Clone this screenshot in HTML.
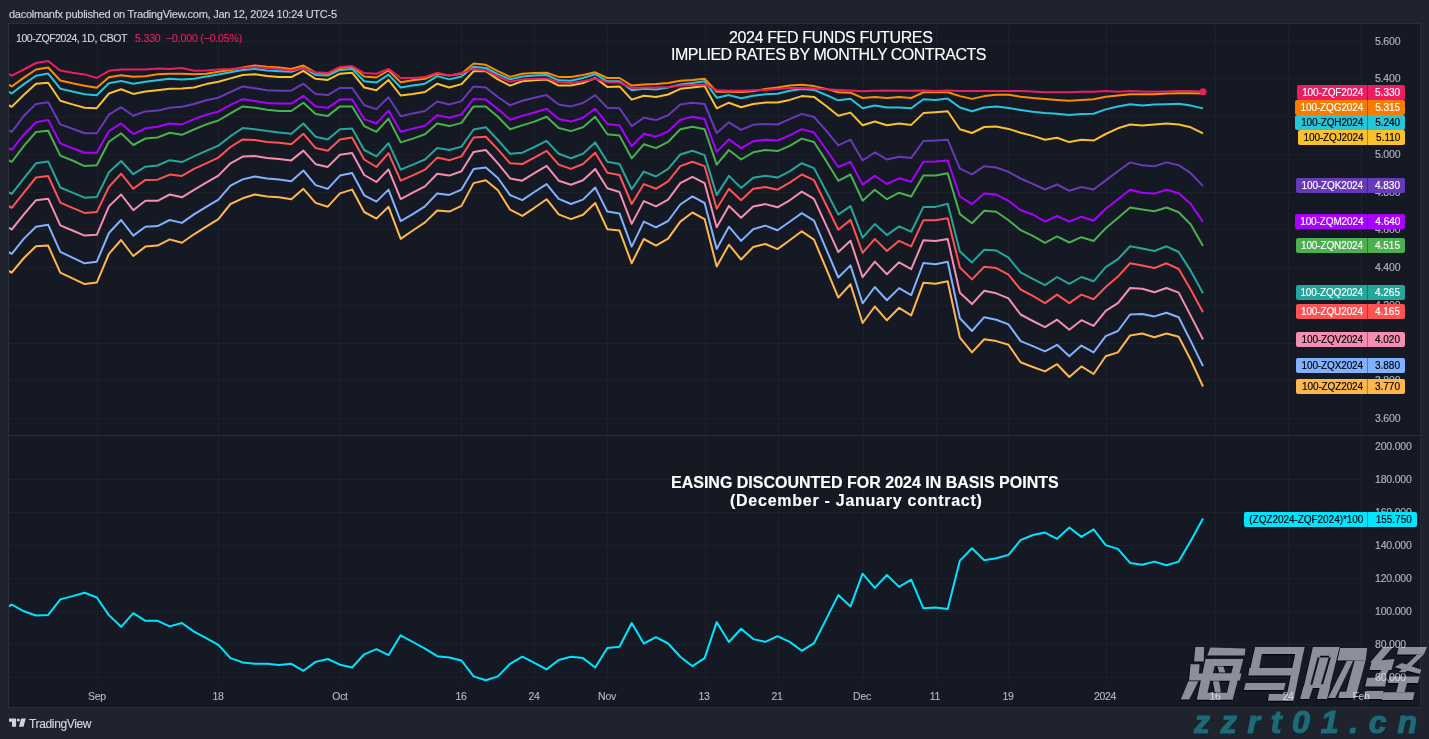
<!DOCTYPE html>
<html><head><meta charset="utf-8"><style>
*{margin:0;padding:0;box-sizing:border-box}
.hdr,.legend,.title,.pl,.tl,.tag{will-change:transform;-webkit-text-stroke:0.15px currentColor}
html,body{width:1429px;height:739px;overflow:hidden;background:#1f232e;font-family:"Liberation Sans",sans-serif}
#chart{position:absolute;left:8px;top:23px;width:1413px;height:685px;background:#151924;border:1px solid #2a2e39}
svg{position:absolute;left:0;top:0}
.hdr{position:absolute;left:9px;top:7.5px;font-size:11px;letter-spacing:-0.25px;color:#d1d4dc;white-space:nowrap}
.legend{position:absolute;left:16px;top:31.5px;font-size:10.5px;color:#d1d4dc;white-space:nowrap}
.title{position:absolute;color:#fff;white-space:nowrap;text-align:center}
.pl{position:absolute;left:1374.5px;height:14px;line-height:14px;font-size:10.5px;letter-spacing:-0.2px;color:#b2b5be;white-space:nowrap}
.tl{position:absolute;top:689px;width:60px;text-align:center;height:14px;line-height:14px;font-size:10.5px;letter-spacing:-0.3px;color:#b2b5be;white-space:nowrap}
.tag{position:absolute;height:15.2px;border-radius:2px;font-size:10px;line-height:15.2px;white-space:nowrap}
.tn{position:absolute;top:0;letter-spacing:-0.12px}
.tsep{position:absolute;left:71px;top:0;width:1px;height:100%;background:rgba(0,0,0,0.3)}
.tv{position:absolute;right:5px;top:0}
</style></head><body>
<div id="chart"></div>
<svg width="1429" height="739" viewBox="0 0 1429 739">
<defs><clipPath id="ct"><rect x="9" y="25" width="1352" height="410"/></clipPath>
<clipPath id="cb"><rect x="9" y="436" width="1352" height="247"/></clipPath></defs>
<line x1="97.5" y1="25" x2="97.5" y2="683" stroke="#1c202b" stroke-width="1"/><line x1="218.5" y1="25" x2="218.5" y2="683" stroke="#1c202b" stroke-width="1"/><line x1="340.5" y1="25" x2="340.5" y2="683" stroke="#1c202b" stroke-width="1"/><line x1="461.5" y1="25" x2="461.5" y2="683" stroke="#1c202b" stroke-width="1"/><line x1="534.5" y1="25" x2="534.5" y2="683" stroke="#1c202b" stroke-width="1"/><line x1="607.5" y1="25" x2="607.5" y2="683" stroke="#1c202b" stroke-width="1"/><line x1="705.5" y1="25" x2="705.5" y2="683" stroke="#1c202b" stroke-width="1"/><line x1="778.5" y1="25" x2="778.5" y2="683" stroke="#1c202b" stroke-width="1"/><line x1="863.5" y1="25" x2="863.5" y2="683" stroke="#1c202b" stroke-width="1"/><line x1="936.5" y1="25" x2="936.5" y2="683" stroke="#1c202b" stroke-width="1"/><line x1="1008.5" y1="25" x2="1008.5" y2="683" stroke="#1c202b" stroke-width="1"/><line x1="1106.5" y1="25" x2="1106.5" y2="683" stroke="#1c202b" stroke-width="1"/><line x1="1215.5" y1="25" x2="1215.5" y2="683" stroke="#1c202b" stroke-width="1"/><line x1="1288.5" y1="25" x2="1288.5" y2="683" stroke="#1c202b" stroke-width="1"/><line x1="9" y1="41.5" x2="1361" y2="41.5" stroke="#1c202b" stroke-width="1"/><line x1="9" y1="78.5" x2="1361" y2="78.5" stroke="#1c202b" stroke-width="1"/><line x1="9" y1="116.5" x2="1361" y2="116.5" stroke="#1c202b" stroke-width="1"/><line x1="9" y1="154.5" x2="1361" y2="154.5" stroke="#1c202b" stroke-width="1"/><line x1="9" y1="192.5" x2="1361" y2="192.5" stroke="#1c202b" stroke-width="1"/><line x1="9" y1="229.5" x2="1361" y2="229.5" stroke="#1c202b" stroke-width="1"/><line x1="9" y1="267.5" x2="1361" y2="267.5" stroke="#1c202b" stroke-width="1"/><line x1="9" y1="305.5" x2="1361" y2="305.5" stroke="#1c202b" stroke-width="1"/><line x1="9" y1="343.5" x2="1361" y2="343.5" stroke="#1c202b" stroke-width="1"/><line x1="9" y1="380.5" x2="1361" y2="380.5" stroke="#1c202b" stroke-width="1"/><line x1="9" y1="418.5" x2="1361" y2="418.5" stroke="#1c202b" stroke-width="1"/><line x1="9" y1="479.5" x2="1361" y2="479.5" stroke="#1c202b" stroke-width="1"/><line x1="9" y1="512.5" x2="1361" y2="512.5" stroke="#1c202b" stroke-width="1"/><line x1="9" y1="545.5" x2="1361" y2="545.5" stroke="#1c202b" stroke-width="1"/><line x1="9" y1="578.5" x2="1361" y2="578.5" stroke="#1c202b" stroke-width="1"/><line x1="9" y1="611.5" x2="1361" y2="611.5" stroke="#1c202b" stroke-width="1"/><line x1="9" y1="644.5" x2="1361" y2="644.5" stroke="#1c202b" stroke-width="1"/><line x1="9" y1="677.5" x2="1361" y2="677.5" stroke="#1c202b" stroke-width="1"/><line x1="8" y1="435.5" x2="1421" y2="435.5" stroke="#2a2e39" stroke-width="1"/><line x1="1361.5" y1="24" x2="1361.5" y2="707" stroke="#1f232e" stroke-width="1"/>
<g clip-path="url(#ct)"><polyline points="-0.5,265.7 11.7,272.7 23.9,258.0 36.0,246.2 48.2,245.6 60.3,272.7 72.5,278.4 84.6,284.1 96.8,282.6 108.9,253.8 121.1,240.0 133.3,256.0 145.4,246.6 157.6,245.6 169.7,239.4 181.9,242.8 194.0,234.3 206.2,226.7 218.4,219.1 230.5,204.0 242.7,198.3 254.8,194.5 267.0,196.4 279.1,197.3 291.3,199.2 303.4,188.8 315.6,202.9 327.8,206.7 339.9,193.4 352.1,189.6 364.2,212.0 376.4,218.6 388.5,206.7 400.7,238.9 412.8,230.5 425.0,222.4 437.2,210.5 449.3,211.6 461.5,205.9 473.6,183.1 485.8,180.3 497.9,190.2 510.1,209.7 522.3,215.9 534.4,207.8 546.6,199.2 558.7,214.4 570.9,219.1 583.0,214.8 595.2,203.0 607.3,229.2 619.5,230.5 631.7,263.3 643.8,239.0 656.0,245.6 668.1,238.6 680.3,221.6 692.4,212.5 704.6,219.1 716.7,266.5 728.9,244.7 741.1,259.5 753.2,247.0 765.4,244.0 777.5,249.1 789.7,240.2 801.8,231.3 814.0,239.6 826.2,268.6 838.3,297.6 850.5,284.3 862.6,323.0 874.8,306.5 886.9,320.3 899.1,307.8 911.2,315.4 923.4,282.7 935.6,283.8 947.7,281.3 959.9,337.7 972.0,352.4 984.2,339.2 996.3,341.1 1008.5,344.8 1020.6,362.3 1032.8,367.0 1045.0,371.4 1057.1,364.2 1069.3,377.0 1081.4,366.4 1093.6,374.0 1105.7,356.2 1117.9,352.4 1130.1,335.4 1142.2,333.5 1154.4,337.3 1166.5,333.5 1178.7,336.7 1190.8,360.0 1203.0,386.5" fill="none" stroke="#ffb74d" stroke-width="2" stroke-linejoin="round"/><polyline points="-0.5,246.8 11.7,253.8 23.9,238.6 36.0,226.7 48.2,224.8 60.3,251.9 72.5,257.6 84.6,263.3 96.8,261.7 108.9,233.0 121.1,220.0 133.3,235.6 145.4,226.7 157.6,226.1 169.7,220.0 181.9,222.9 194.0,214.4 206.2,206.8 218.4,199.6 230.5,185.6 242.7,179.4 254.8,176.5 267.0,178.4 279.1,179.4 291.3,181.3 303.4,170.5 315.6,185.1 327.8,188.9 339.9,175.6 352.1,173.1 364.2,195.3 376.4,201.6 388.5,189.6 400.7,221.1 412.8,214.2 425.0,206.3 437.2,193.4 449.3,194.9 461.5,189.6 473.6,168.9 485.8,167.4 497.9,178.0 510.1,195.1 522.3,200.2 534.4,192.0 546.6,184.1 558.7,198.9 570.9,204.0 583.0,199.6 595.2,187.5 607.3,211.6 619.5,213.4 631.7,246.6 643.8,221.6 656.0,227.3 668.1,221.0 680.3,204.5 692.4,196.4 704.6,203.0 716.7,248.9 728.9,226.7 741.1,240.9 753.2,229.2 765.4,225.6 777.5,230.2 789.7,221.8 801.8,213.1 814.0,220.7 826.2,249.1 838.3,277.5 850.5,265.4 862.6,303.3 874.8,287.0 886.9,300.2 899.1,288.1 911.2,295.1 923.4,263.0 935.6,264.3 947.7,261.8 959.9,318.3 972.0,331.0 984.2,317.2 996.3,319.7 1008.5,324.4 1020.6,341.1 1032.8,346.2 1045.0,351.3 1057.1,344.8 1069.3,356.2 1081.4,345.6 1093.6,352.4 1105.7,336.1 1117.9,331.0 1130.1,314.5 1142.2,314.0 1154.4,316.4 1166.5,312.7 1178.7,317.2 1190.8,341.1 1203.0,366.1" fill="none" stroke="#82b1ff" stroke-width="2" stroke-linejoin="round"/><polyline points="-0.5,222.5 11.7,229.5 23.9,214.4 36.0,200.2 48.2,198.7 60.3,225.4 72.5,230.5 84.6,235.6 96.8,234.8 108.9,206.4 121.1,194.5 133.3,210.2 145.4,200.8 157.6,200.8 169.7,194.5 181.9,197.3 194.0,189.8 206.2,182.6 218.4,175.6 230.5,163.3 242.7,156.6 254.8,156.0 267.0,158.0 279.1,159.1 291.3,160.4 303.4,150.6 315.6,164.2 327.8,166.9 339.9,154.8 352.1,152.9 364.2,175.0 376.4,182.0 388.5,169.4 400.7,199.1 412.8,192.7 425.0,186.4 437.2,173.7 449.3,175.6 461.5,171.3 473.6,151.9 485.8,150.0 497.9,163.3 510.1,178.4 522.3,180.7 534.4,173.1 546.6,165.9 558.7,180.7 570.9,184.8 583.0,180.3 595.2,168.9 607.3,188.3 619.5,192.0 631.7,223.9 643.8,201.1 656.0,206.4 668.1,199.6 680.3,183.1 692.4,176.9 704.6,183.1 716.7,227.3 728.9,205.9 741.1,217.8 753.2,206.4 765.4,204.1 777.5,207.3 789.7,200.3 801.8,191.6 814.0,198.8 826.2,225.4 838.3,252.1 850.5,240.8 862.6,277.1 874.8,261.6 886.9,274.3 899.1,262.3 911.2,269.2 923.4,240.2 935.6,241.0 947.7,239.1 959.9,292.7 972.0,304.1 984.2,290.8 996.3,293.3 1008.5,298.4 1020.6,314.5 1032.8,321.0 1045.0,327.2 1057.1,319.7 1069.3,329.7 1081.4,320.2 1093.6,325.9 1105.7,310.8 1117.9,303.2 1130.1,288.0 1142.2,288.8 1154.4,292.2 1166.5,288.0 1178.7,292.6 1190.8,315.9 1203.0,339.5" fill="none" stroke="#f48fb1" stroke-width="2" stroke-linejoin="round"/><polyline points="-0.5,200.8 11.7,207.8 23.9,192.6 36.0,177.5 48.2,176.0 60.3,202.7 72.5,207.8 84.6,212.9 96.8,212.1 108.9,186.9 121.1,173.7 133.3,188.8 145.4,179.9 157.6,179.7 169.7,174.6 181.9,175.9 194.0,168.9 206.2,163.3 218.4,157.6 230.5,147.0 242.7,139.4 254.8,140.0 267.0,141.9 279.1,142.8 291.3,144.3 303.4,133.7 315.6,148.1 327.8,150.8 339.9,139.4 352.1,137.5 364.2,159.5 376.4,167.0 388.5,153.2 400.7,180.7 412.8,175.4 425.0,169.7 437.2,157.6 449.3,160.2 461.5,156.4 473.6,137.5 485.8,136.7 497.9,149.4 510.1,163.3 522.3,164.0 534.4,157.6 546.6,150.8 558.7,164.6 570.9,168.9 583.0,164.0 595.2,152.7 607.3,172.7 619.5,175.0 631.7,204.0 643.8,184.1 656.0,188.8 668.1,181.3 680.3,166.1 692.4,161.7 704.6,166.1 716.7,208.7 728.9,188.8 741.1,200.2 753.2,188.8 765.4,187.0 777.5,189.7 789.7,182.7 801.8,174.5 814.0,180.2 826.2,205.0 838.3,229.8 850.5,219.9 862.6,252.9 874.8,238.9 886.9,251.0 899.1,240.8 911.2,246.4 923.4,220.2 935.6,220.2 947.7,218.3 959.9,267.5 972.0,279.4 984.2,266.7 996.3,268.1 1008.5,274.7 1020.6,289.5 1032.8,295.9 1045.0,303.1 1057.1,294.6 1069.3,303.1 1081.4,294.6 1093.6,299.3 1105.7,287.0 1117.9,276.6 1130.1,263.3 1142.2,265.6 1154.4,268.1 1166.5,263.3 1178.7,269.0 1190.8,289.8 1203.0,312.2" fill="none" stroke="#ff5252" stroke-width="2" stroke-linejoin="round"/><polyline points="-0.5,186.9 11.7,193.9 23.9,178.4 36.0,163.3 48.2,161.4 60.3,187.5 72.5,192.6 84.6,197.7 96.8,197.0 108.9,172.3 121.1,161.0 133.3,174.2 145.4,166.7 157.6,165.5 169.7,160.2 181.9,162.1 194.0,156.4 206.2,150.8 218.4,145.6 230.5,136.2 242.7,128.0 254.8,129.2 267.0,131.1 279.1,132.4 291.3,133.7 303.4,123.5 315.6,136.7 327.8,139.4 339.9,129.2 352.1,128.6 364.2,150.0 376.4,156.4 388.5,143.2 400.7,169.7 412.8,164.6 425.0,159.5 437.2,148.1 449.3,150.0 461.5,146.6 473.6,129.5 485.8,127.3 497.9,140.0 510.1,153.8 522.3,152.7 534.4,147.0 546.6,140.9 558.7,153.8 570.9,158.3 583.0,153.8 595.2,142.4 607.3,161.7 619.5,164.0 631.7,189.2 643.8,171.6 656.0,176.5 668.1,168.9 680.3,154.5 692.4,150.8 704.6,155.1 716.7,195.1 728.9,175.9 741.1,187.9 753.2,177.8 765.4,175.7 777.5,177.6 789.7,171.3 801.8,163.2 814.0,168.1 826.2,191.3 838.3,214.6 850.5,206.1 862.6,237.7 874.8,224.1 886.9,235.1 899.1,226.4 911.2,231.7 923.4,206.9 935.6,206.9 947.7,203.7 959.9,251.6 972.0,262.4 984.2,249.7 996.3,250.5 1008.5,257.7 1020.6,272.4 1032.8,278.9 1045.0,285.1 1057.1,277.0 1069.3,283.8 1081.4,277.0 1093.6,281.3 1105.7,267.1 1117.9,259.2 1130.1,246.3 1142.2,248.6 1154.4,251.0 1166.5,246.3 1178.7,252.0 1190.8,270.9 1203.0,293.3" fill="none" stroke="#26a69a" stroke-width="2" stroke-linejoin="round"/><polyline points="-0.5,155.0 11.7,162.0 23.9,145.8 36.0,132.0 48.2,130.7 60.3,155.6 72.5,160.5 84.6,166.1 96.8,165.3 108.9,141.8 121.1,133.2 133.3,145.0 145.4,138.5 157.6,137.5 169.7,132.8 181.9,134.8 194.0,129.5 206.2,124.4 218.4,120.5 230.5,113.4 242.7,106.4 254.8,107.8 267.0,109.7 279.1,111.0 291.3,111.0 303.4,102.7 315.6,114.0 327.8,115.9 339.9,106.4 352.1,106.4 364.2,126.1 376.4,131.8 388.5,118.6 400.7,142.4 412.8,138.6 425.0,134.3 437.2,123.5 449.3,126.1 461.5,122.9 473.6,106.4 485.8,106.4 497.9,116.7 510.1,129.2 522.3,125.4 534.4,121.6 546.6,116.7 558.7,128.0 570.9,131.1 583.0,127.3 595.2,116.7 607.3,134.3 619.5,135.6 631.7,158.3 643.8,144.3 656.0,148.1 668.1,141.9 680.3,129.2 692.4,126.7 704.6,129.2 716.7,164.6 728.9,150.0 741.1,159.5 753.2,152.3 765.4,149.9 777.5,151.1 789.7,145.8 801.8,138.6 814.0,142.0 826.2,160.9 838.3,180.8 850.5,174.5 862.6,200.7 874.8,189.7 886.9,199.2 899.1,192.7 911.2,196.5 923.4,175.6 935.6,175.6 947.7,173.2 959.9,214.1 972.0,223.2 984.2,210.7 996.3,211.8 1008.5,220.2 1020.6,230.2 1032.8,235.9 1045.0,242.9 1057.1,236.4 1069.3,242.5 1081.4,237.2 1093.6,241.0 1105.7,228.3 1117.9,217.9 1130.1,207.5 1142.2,209.4 1154.4,211.3 1166.5,207.5 1178.7,212.2 1190.8,224.5 1203.0,245.9" fill="none" stroke="#4caf50" stroke-width="2" stroke-linejoin="round"/><polyline points="-0.5,142.9 11.7,149.9 23.9,134.5 36.0,122.3 48.2,119.9 60.3,143.4 72.5,148.3 84.6,152.7 96.8,152.7 108.9,131.2 121.1,123.4 133.3,134.1 145.4,128.3 157.6,126.7 169.7,123.5 181.9,124.4 194.0,119.1 206.2,114.8 218.4,111.6 230.5,104.9 242.7,99.2 254.8,101.1 267.0,103.0 279.1,103.6 291.3,103.6 303.4,95.8 315.6,106.4 327.8,107.8 339.9,99.6 352.1,99.2 364.2,119.1 376.4,123.5 388.5,110.6 400.7,131.8 412.8,128.6 425.0,125.8 437.2,115.3 449.3,117.8 461.5,114.4 473.6,98.9 485.8,99.6 497.9,109.1 510.1,119.7 522.3,115.9 534.4,112.5 546.6,108.7 558.7,119.1 570.9,121.6 583.0,117.8 595.2,108.7 607.3,123.9 619.5,125.4 631.7,146.2 643.8,133.7 656.0,136.7 668.1,131.4 680.3,119.7 692.4,116.7 704.6,119.1 716.7,151.9 728.9,139.4 741.1,148.1 753.2,141.3 765.4,139.7 777.5,140.5 789.7,135.3 801.8,129.1 814.0,132.5 826.2,149.5 838.3,167.0 850.5,161.9 862.6,184.6 874.8,175.7 886.9,184.0 899.1,178.3 911.2,181.7 923.4,161.8 935.6,161.4 947.7,160.5 959.9,196.5 972.0,204.1 984.2,193.6 996.3,194.6 1008.5,200.8 1020.6,210.3 1032.8,214.5 1045.0,221.7 1057.1,216.0 1069.3,221.7 1081.4,216.7 1093.6,220.7 1105.7,208.8 1117.9,199.3 1130.1,189.8 1142.2,192.7 1154.4,193.6 1166.5,189.8 1178.7,193.3 1190.8,204.1 1203.0,222.0" fill="none" stroke="#aa00ff" stroke-width="2" stroke-linejoin="round"/><polyline points="-0.5,125.0 11.7,132.0 23.9,115.8 36.0,103.9 48.2,102.3 60.3,124.4 72.5,128.8 84.6,133.2 96.8,133.2 108.9,114.7 121.1,107.2 133.3,115.8 145.4,111.4 157.6,110.6 169.7,107.8 181.9,106.8 194.0,104.0 206.2,100.2 218.4,97.7 230.5,92.0 242.7,86.4 254.8,88.3 267.0,90.3 279.1,90.7 291.3,90.7 303.4,83.7 315.6,93.9 327.8,95.1 339.9,87.9 352.1,87.9 364.2,105.3 376.4,109.1 388.5,97.3 400.7,116.3 412.8,113.4 425.0,111.0 437.2,101.5 449.3,104.5 461.5,101.1 473.6,86.4 485.8,87.5 497.9,97.0 510.1,105.3 522.3,100.8 534.4,97.7 546.6,95.1 558.7,104.5 570.9,106.4 583.0,103.0 595.2,95.1 607.3,107.8 619.5,108.3 631.7,126.1 643.8,117.8 656.0,120.1 668.1,115.3 680.3,104.5 692.4,102.7 704.6,104.0 716.7,133.0 728.9,122.3 741.1,129.9 753.2,124.8 765.4,124.0 777.5,124.5 789.7,119.2 801.8,113.9 814.0,117.0 826.2,130.6 838.3,145.4 850.5,139.7 862.6,160.5 874.8,152.4 886.9,159.4 899.1,156.7 911.2,158.1 923.4,141.0 935.6,140.6 947.7,139.7 959.9,168.6 972.0,174.3 984.2,166.2 996.3,167.5 1008.5,171.9 1020.6,178.5 1032.8,183.8 1045.0,189.5 1057.1,184.5 1069.3,190.8 1081.4,187.0 1093.6,189.5 1105.7,180.4 1117.9,171.3 1130.1,162.4 1142.2,165.2 1154.4,166.2 1166.5,162.4 1178.7,165.2 1190.8,173.2 1203.0,186.1" fill="none" stroke="#673ab7" stroke-width="2" stroke-linejoin="round"/><polyline points="-0.5,99.9 11.7,106.9 23.9,94.7 36.0,83.8 48.2,82.8 60.3,100.7 72.5,104.4 84.6,107.7 96.8,108.2 108.9,93.5 121.1,89.3 133.3,93.9 145.4,91.4 157.6,90.2 169.7,88.8 181.9,88.4 194.0,87.5 206.2,84.1 218.4,81.8 230.5,78.4 242.7,75.0 254.8,74.2 267.0,76.1 279.1,77.1 291.3,77.1 303.4,70.8 315.6,78.8 327.8,79.9 339.9,73.7 352.1,72.7 364.2,87.5 376.4,90.2 388.5,79.9 400.7,95.5 412.8,93.9 425.0,92.0 437.2,83.7 449.3,87.5 461.5,84.1 473.6,71.2 485.8,71.2 497.9,79.4 510.1,85.6 522.3,81.3 534.4,80.3 546.6,79.4 558.7,85.6 570.9,85.6 583.0,83.1 595.2,78.0 607.3,86.9 619.5,86.4 631.7,99.6 643.8,95.8 656.0,97.0 668.1,94.5 680.3,88.8 692.4,87.5 704.6,86.0 716.7,108.3 728.9,102.7 741.1,107.2 753.2,104.0 765.4,102.6 777.5,102.6 789.7,99.9 801.8,96.1 814.0,96.9 826.2,106.0 838.3,115.8 850.5,112.6 862.6,125.3 874.8,121.5 886.9,125.3 899.1,123.4 911.2,124.9 923.4,113.1 935.6,112.2 947.7,111.3 959.9,129.2 972.0,133.0 984.2,127.0 996.3,126.4 1008.5,128.9 1020.6,132.7 1032.8,135.9 1045.0,139.7 1057.1,137.8 1069.3,142.1 1081.4,139.7 1093.6,140.6 1105.7,134.0 1117.9,128.3 1130.1,124.5 1142.2,125.5 1154.4,124.5 1166.5,123.6 1178.7,124.5 1190.8,127.3 1203.0,133.4" fill="none" stroke="#fbc02d" stroke-width="2" stroke-linejoin="round"/><polyline points="-0.5,86.5 11.7,93.5 23.9,84.1 36.0,75.7 48.2,73.6 60.3,88.7 72.5,91.4 84.6,94.2 96.8,95.2 108.9,83.3 121.1,80.9 133.3,83.8 145.4,81.7 157.6,80.3 169.7,78.8 181.9,79.4 194.0,78.8 206.2,76.5 218.4,74.6 230.5,72.3 242.7,69.9 254.8,68.9 267.0,70.5 279.1,71.2 291.3,71.8 303.4,68.0 315.6,75.0 327.8,75.6 339.9,69.9 352.1,68.9 364.2,81.3 376.4,82.6 388.5,74.6 400.7,87.5 412.8,85.6 425.0,83.7 437.2,76.1 449.3,79.4 461.5,76.5 473.6,66.7 485.8,68.0 497.9,74.2 510.1,79.4 522.3,76.5 534.4,75.6 546.6,75.0 558.7,80.3 570.9,80.7 583.0,78.0 595.2,74.2 607.3,81.3 619.5,81.3 631.7,90.2 643.8,88.8 656.0,89.4 668.1,87.5 680.3,84.5 692.4,83.1 704.6,81.3 716.7,97.7 728.9,95.1 741.1,98.3 753.2,95.8 765.4,94.2 777.5,93.7 789.7,90.8 801.8,88.9 814.0,89.9 826.2,95.0 838.3,100.3 850.5,98.8 862.6,108.3 874.8,105.6 886.9,107.5 899.1,107.5 911.2,108.3 923.4,99.3 935.6,99.9 947.7,98.6 959.9,107.5 972.0,111.3 984.2,107.5 996.3,106.5 1008.5,108.0 1020.6,109.9 1032.8,111.8 1045.0,113.1 1057.1,113.7 1069.3,115.0 1081.4,114.1 1093.6,113.7 1105.7,109.4 1117.9,106.5 1130.1,104.2 1142.2,105.6 1154.4,104.6 1166.5,104.2 1178.7,103.7 1190.8,105.6 1203.0,108.4" fill="none" stroke="#26c6da" stroke-width="2" stroke-linejoin="round"/><polyline points="-0.5,79.5 11.7,86.5 23.9,77.6 36.0,69.5 48.2,67.5 60.3,80.5 72.5,83.3 84.6,85.7 96.8,87.7 108.9,77.3 121.1,75.2 133.3,76.8 145.4,76.3 157.6,74.2 169.7,73.7 181.9,73.7 194.0,74.2 206.2,73.7 218.4,71.8 230.5,69.9 242.7,67.4 254.8,65.5 267.0,66.7 279.1,67.6 291.3,68.9 303.4,65.5 315.6,72.7 327.8,73.7 339.9,68.0 352.1,66.7 364.2,76.5 376.4,77.5 388.5,70.5 400.7,82.2 412.8,80.3 425.0,78.8 437.2,73.7 449.3,75.6 461.5,73.7 473.6,63.6 485.8,64.8 497.9,71.2 510.1,76.9 522.3,73.7 534.4,73.1 546.6,72.7 558.7,76.9 570.9,76.9 583.0,75.0 595.2,72.3 607.3,78.0 619.5,78.0 631.7,85.6 643.8,84.5 656.0,84.1 668.1,83.1 680.3,80.7 692.4,79.9 704.6,78.8 716.7,91.7 728.9,91.7 741.1,92.0 753.2,91.3 765.4,88.9 777.5,87.4 789.7,85.5 801.8,84.8 814.0,86.1 826.2,88.9 838.3,92.3 850.5,92.7 862.6,98.0 874.8,96.9 886.9,98.0 899.1,96.9 911.2,98.0 923.4,92.3 935.6,92.3 947.7,92.3 959.9,96.1 972.0,98.9 984.2,96.1 996.3,94.8 1008.5,94.8 1020.6,96.7 1032.8,98.0 1045.0,98.9 1057.1,99.9 1069.3,100.8 1081.4,99.9 1093.6,99.3 1105.7,96.7 1117.9,95.5 1130.1,94.2 1142.2,94.2 1154.4,94.2 1166.5,93.6 1178.7,93.3 1190.8,93.3 1203.0,93.6" fill="none" stroke="#fb8c00" stroke-width="2" stroke-linejoin="round"/><polyline points="-0.5,68.7 11.7,75.7 23.9,69.5 36.0,63.0 48.2,61.0 60.3,70.6 72.5,72.7 84.6,74.4 96.8,78.0 108.9,70.8 121.1,69.5 133.3,69.5 145.4,69.5 157.6,68.4 169.7,68.9 181.9,68.0 194.0,70.8 206.2,70.5 218.4,69.5 230.5,68.9 242.7,68.0 254.8,67.0 267.0,68.0 279.1,68.9 291.3,70.5 303.4,68.6 315.6,72.3 327.8,73.1 339.9,67.0 352.1,66.1 364.2,73.1 376.4,73.7 388.5,68.9 400.7,78.0 412.8,78.0 425.0,77.1 437.2,72.7 449.3,75.6 461.5,73.1 473.6,68.9 485.8,70.5 497.9,76.5 510.1,81.8 522.3,79.4 534.4,78.8 546.6,78.4 558.7,82.2 570.9,83.1 583.0,81.3 595.2,78.8 607.3,82.2 619.5,82.6 631.7,87.9 643.8,87.5 656.0,87.5 668.1,86.9 680.3,85.6 692.4,85.0 704.6,84.5 716.7,90.2 728.9,90.7 741.1,90.7 753.2,90.2 765.4,89.9 777.5,88.9 789.7,88.0 801.8,88.0 814.0,88.6 826.2,89.3 838.3,89.9 850.5,90.5 862.6,91.2 874.8,90.8 886.9,90.5 899.1,90.8 911.2,90.8 923.4,90.4 935.6,91.0 947.7,90.4 959.9,91.0 972.0,91.0 984.2,91.0 996.3,91.0 1008.5,91.0 1020.6,91.0 1032.8,91.4 1045.0,92.3 1057.1,92.3 1069.3,92.3 1081.4,91.7 1093.6,91.7 1105.7,91.0 1117.9,91.7 1130.1,91.0 1142.2,91.4 1154.4,91.7 1166.5,91.4 1178.7,91.0 1190.8,91.0 1203.0,91.7" fill="none" stroke="#e91e63" stroke-width="2" stroke-linejoin="round"/><circle cx="1203.0" cy="91.7" r="3.5" fill="#e91e63"/></g>
<g clip-path="url(#cb)"><polyline points="-0.5,612.5 11.7,604.5 23.9,611.3 36.0,615.5 48.2,614.9 60.3,599.4 72.5,596.1 84.6,592.7 96.8,597.5 108.9,615.1 121.1,626.8 133.3,613.2 145.4,620.8 157.6,620.8 169.7,626.4 181.9,623.0 194.0,631.6 206.2,638.2 218.4,644.8 230.5,658.1 242.7,662.4 254.8,663.8 267.0,663.8 279.1,665.1 291.3,663.8 303.4,670.8 315.6,661.9 327.8,659.0 339.9,664.7 352.1,667.5 364.2,654.3 376.4,649.2 388.5,655.2 400.7,635.3 412.8,642.0 425.0,648.6 437.2,656.2 449.3,657.5 461.5,660.5 473.6,676.4 485.8,680.2 497.9,676.4 510.1,663.8 522.3,656.7 534.4,662.8 546.6,669.4 558.7,660.0 570.9,656.7 583.0,658.1 595.2,667.5 607.3,648.0 619.5,646.7 631.7,623.0 643.8,643.5 656.0,637.2 668.1,643.5 680.3,656.7 692.4,666.2 704.6,658.1 716.7,622.1 728.9,642.0 741.1,628.7 753.2,639.1 765.4,641.9 777.5,636.2 789.7,641.9 801.8,650.8 814.0,643.2 826.2,619.1 838.3,595.1 850.5,606.4 862.6,573.7 874.8,587.9 886.9,575.0 899.1,586.9 911.2,579.7 923.4,608.3 935.6,607.6 947.7,608.9 959.9,560.6 972.0,548.3 984.2,560.2 996.3,558.3 1008.5,554.9 1020.6,540.2 1032.8,535.0 1045.0,532.6 1057.1,538.8 1069.3,527.5 1081.4,536.9 1093.6,529.4 1105.7,545.1 1117.9,548.9 1130.1,562.9 1142.2,564.8 1154.4,561.6 1166.5,565.3 1178.7,561.6 1190.8,540.7 1203.0,518.6" fill="none" stroke="#00e5ff" stroke-width="2" stroke-linejoin="round"/></g>
<g fill="#d1d4dc"><path d="M9,718.4 H16.1 V726.8 H12 V721.8 H9 Z"/><circle cx="18.4" cy="720" r="1.5"/><path d="M21.1,718.4 H25.8 L23.5,726.8 H19 Z"/></g>
</svg>
<div class="hdr">dacolmanfx published on TradingView.com, Jan 12, 2024 10:24 UTC-5</div>
<div class="legend"><span style="letter-spacing:-0.41px">100-ZQF2024, 1D, CBOT</span><span style="position:absolute;left:119px;letter-spacing:-0.15px;color:#e91e63">5.330&nbsp;&nbsp;−0.000 (−0.05%)</span></div>
<div class="title" style="left:729px;top:28.5px;font-size:16px;line-height:17px;letter-spacing:-0.37px">2024 FED FUNDS FUTURES</div>
<div class="title" style="left:671.4px;top:45.5px;font-size:16px;line-height:17px;letter-spacing:-0.48px">IMPLIED RATES BY MONTHLY CONTRACTS</div>
<div class="title" style="left:671px;top:473.5px;font-size:16px;line-height:17px;font-weight:bold;letter-spacing:0px">EASING DISCOUNTED FOR 2024 IN BASIS POINTS</div>
<div class="title" style="left:729.7px;top:491.5px;font-size:16px;line-height:17px;font-weight:bold;letter-spacing:0.74px">(December - January contract)</div>
<div class="pl" style="top:33.5px">5.600</div><div class="pl" style="top:71.3px">5.400</div><div class="pl" style="top:109.0px">5.200</div><div class="pl" style="top:146.8px">5.000</div><div class="pl" style="top:184.5px">4.800</div><div class="pl" style="top:222.3px">4.600</div><div class="pl" style="top:260.1px">4.400</div><div class="pl" style="top:297.8px">4.200</div><div class="pl" style="top:335.6px">4.000</div><div class="pl" style="top:373.3px">3.800</div><div class="pl" style="top:411.1px">3.600</div><div class="pl" style="top:439.3px">200.000</div><div class="pl" style="top:472.2px">180.000</div><div class="pl" style="top:505.1px">160.000</div><div class="pl" style="top:538.1px">140.000</div><div class="pl" style="top:571.0px">120.000</div><div class="pl" style="top:603.9px">100.000</div><div class="pl" style="top:636.8px">80.000</div><div class="pl" style="top:669.7px">60.000</div>
<div class="tl" style="left:66.5px">Sep</div><div class="tl" style="left:188.1px">18</div><div class="tl" style="left:309.6px">Oct</div><div class="tl" style="left:431.2px">16</div><div class="tl" style="left:504.1px">24</div><div class="tl" style="left:577.0px">Nov</div><div class="tl" style="left:674.3px">13</div><div class="tl" style="left:747.2px">21</div><div class="tl" style="left:832.3px">Dec</div><div class="tl" style="left:905.3px">11</div><div class="tl" style="left:978.2px">19</div><div class="tl" style="left:1075.4px">2024</div><div class="tl" style="left:1184.8px">16</div><div class="tl" style="left:1257.8px">24</div><div class="tl" style="left:1330.7px">Feb</div>
<div class="tag" style="top:84.6px;left:1297.2px;width:108.1px;background:#e91e63;color:#fff"><span class="tn" style="right:42.0px">100-ZQF2024</span><span class="tsep" style="left:69.8px"></span><span class="tv">5.330</span></div><div class="tag" style="top:99.8px;left:1295.1px;width:110.2px;background:#f57c00;color:#fff"><span class="tn" style="right:42.0px">100-ZQG2024</span><span class="tsep" style="left:71.9px"></span><span class="tv">5.315</span></div><div class="tag" style="top:114.8px;left:1295.1px;width:110.2px;background:#26c6da;color:#000"><span class="tn" style="right:42.0px">100-ZQH2024</span><span class="tsep" style="left:71.9px"></span><span class="tv">5.240</span></div><div class="tag" style="top:129.8px;left:1297.9px;width:107.4px;background:#fbc02d;color:#000"><span class="tn" style="right:42.0px">100-ZQJ2024</span><span class="tsep" style="left:69.1px"></span><span class="tv">5.110</span></div><div class="tag" style="top:178.3px;left:1296.3px;width:109.0px;background:#673ab7;color:#fff"><span class="tn" style="right:42.0px">100-ZQK2024</span><span class="tsep" style="left:70.7px"></span><span class="tv">4.830</span></div><div class="tag" style="top:214.3px;left:1294.9px;width:110.4px;background:#aa00ff;color:#fff"><span class="tn" style="right:42.0px">100-ZQM2024</span><span class="tsep" style="left:72.1px"></span><span class="tv">4.640</span></div><div class="tag" style="top:237.9px;left:1296.3px;width:109.0px;background:#4caf50;color:#fff"><span class="tn" style="right:42.0px">100-ZQN2024</span><span class="tsep" style="left:70.7px"></span><span class="tv">4.515</span></div><div class="tag" style="top:285.1px;left:1296.3px;width:109.0px;background:#26a69a;color:#fff"><span class="tn" style="right:42.0px">100-ZQQ2024</span><span class="tsep" style="left:70.7px"></span><span class="tv">4.265</span></div><div class="tag" style="top:304.0px;left:1296.3px;width:109.0px;background:#ff5252;color:#fff"><span class="tn" style="right:42.0px">100-ZQU2024</span><span class="tsep" style="left:70.7px"></span><span class="tv">4.165</span></div><div class="tag" style="top:331.7px;left:1296.3px;width:109.0px;background:#f48fb1;color:#000"><span class="tn" style="right:42.0px">100-ZQV2024</span><span class="tsep" style="left:70.7px"></span><span class="tv">4.020</span></div><div class="tag" style="top:358.1px;left:1296.3px;width:109.0px;background:#82b1ff;color:#000"><span class="tn" style="right:42.0px">100-ZQX2024</span><span class="tsep" style="left:70.7px"></span><span class="tv">3.880</span></div><div class="tag" style="top:379.0px;left:1296.3px;width:109.0px;background:#ffb74d;color:#000"><span class="tn" style="right:42.0px">100-ZQZ2024</span><span class="tsep" style="left:70.7px"></span><span class="tv">3.770</span></div><div class="tag" style="top:512px;left:1244.2px;width:172.8px;background:#00e5ff;color:#000"><span class="tn" style="left:5.3px;letter-spacing:-0.05px">(ZQZ2024-ZQF2024)*100</span><span class="tsep" style="left:123px"></span><span class="tv">155.750</span></div>
<div class="hdr" style="top:717px;left:29px;font-size:12px;letter-spacing:-0.35px;color:#d1d4dc">TradingView</div>
<svg width="1429" height="739" viewBox="0 0 1429 739">
<defs><mask id="wmm" maskUnits="userSpaceOnUse" x="0" y="0" width="1429" height="739"><rect x="0" y="0" width="1429" height="739" fill="#fff"/><g fill="#000"><path d="M1195.3,647.0 L1204.1,647.0 L1203.7,661.5 L1194.0,661.5Z"/><path d="M1190.5,664.2 L1199.6,664.2 L1198.4,679.6 L1189.2,679.6Z"/><path d="M1188.3,681.3 L1198.4,681.3 L1189.2,699.4 L1180.8,699.4Z"/><path d="M1210.3,647.5 L1245.5,648.4 L1244.6,655.4 L1207.2,655.4Z"/><path d="M1205.5,658.9 L1243.3,658.9 L1232.7,699.8 L1196.7,699.8Z M1214.7,665.9 L1233.2,665.9 L1231.2,673.4 L1212.8,673.4Z M1210.3,680.5 L1229.8,680.5 L1227.0,692.8 L1207.5,692.8Z " fill-rule="evenodd"/><path d="M1190.5,673.4 L1241.5,673.4 L1239.8,680.5 L1189.2,680.5Z"/><path d="M1217.3,666.4 L1223.5,666.4 L1225.3,672.5 L1219.1,672.5Z"/><path d="M1212.9,681.3 L1219.1,681.3 L1220.9,691.9 L1214.7,691.9Z"/><path d="M1255.1,646.9 L1304.5,646.9 L1302.9,654.1 L1253.6,654.1Z"/><path d="M1296.6,646.9 L1304.5,646.9 L1293.5,700.7 L1285.6,700.7Z"/><path d="M1253.5,654.1 L1261.8,654.1 L1259.2,668.6 L1250.4,668.6Z"/><path d="M1249.5,668.1 L1300.1,668.1 L1298.5,675.6 L1248.2,675.6Z"/><path d="M1245.6,683.1 L1285.6,683.1 L1283.8,690.1 L1243.8,690.1Z"/><path d="M1268.9,694.1 L1293.0,694.1 L1292.2,700.7 L1268.0,700.7Z"/><path d="M1312.9,647.1 L1339.6,647.1 L1329.4,687.9 L1303.5,687.9Z M1318.0,655.8 L1320.1,655.8 L1312.3,684.8 L1310.2,684.8Z M1329.2,655.8 L1331.3,655.8 L1322.9,684.8 L1320.7,684.8Z M1318.0,655.8 L1331.3,655.8 L1330.9,657.5 L1317.6,657.5Z " fill-rule="evenodd"/><path d="M1303.5,686.4 L1313.3,686.4 L1309.0,698.9 L1300.0,698.9Z"/><path d="M1320.7,684.0 L1330.2,686.4 L1327.0,698.9 L1316.8,698.9Z"/><path d="M1340.2,647.9 L1367.2,647.9 L1365.6,660.5 L1337.4,660.5Z"/><path d="M1354.7,660.5 L1365.6,660.5 L1355.5,698.1 L1344.5,698.1Z"/><path d="M1339.8,691.8 L1355.5,691.8 L1354.7,698.1 L1338.2,698.1Z"/><path d="M1346.8,660.9 L1353.1,660.9 L1335.1,698.1 L1328.0,698.1Z"/><path d="M1398.6,647.0 L1427.1,647.0 L1423.8,654.6 L1396.9,654.6Z"/><path d="M1417.1,654.6 L1423.8,654.6 L1405.3,672.2 L1398.6,672.2Z"/><path d="M1394.4,667.2 L1402.0,663.0 L1421.3,669.7 L1419.6,673.9Z"/><path d="M1389.4,676.4 L1419.6,676.4 L1417.9,683.1 L1387.7,683.1Z"/><path d="M1398.6,683.1 L1407.0,683.1 L1404.5,692.3 L1396.1,692.3Z"/><path d="M1383.5,692.3 L1414.6,692.3 L1412.9,699.9 L1381.8,699.9Z"/><path d="M1383.5,647.1 L1392.9,647.1 L1379.6,662.4 L1370.2,662.4Z"/><path d="M1371.8,661.3 L1394.5,658.9 L1391.4,669.9 L1369.4,669.9Z"/><path d="M1385.9,663.6 L1394.5,658.9 L1384.3,678.5 L1375.7,678.5Z"/><path d="M1367.1,677.7 L1386.7,677.7 L1385.1,686.4 L1365.1,686.4Z"/><path d="M1365.5,691.1 L1383.5,691.1 L1382.4,698.9 L1363.9,698.9Z"/></g></mask></defs><g mask="url(#wmm)"><g fill="#000" opacity="0.7" transform="translate(-1,1.2)"><path d="M1195.3,647.0 L1204.1,647.0 L1203.7,661.5 L1194.0,661.5Z"/><path d="M1190.5,664.2 L1199.6,664.2 L1198.4,679.6 L1189.2,679.6Z"/><path d="M1188.3,681.3 L1198.4,681.3 L1189.2,699.4 L1180.8,699.4Z"/><path d="M1210.3,647.5 L1245.5,648.4 L1244.6,655.4 L1207.2,655.4Z"/><path d="M1205.5,658.9 L1243.3,658.9 L1232.7,699.8 L1196.7,699.8Z M1214.7,665.9 L1233.2,665.9 L1231.2,673.4 L1212.8,673.4Z M1210.3,680.5 L1229.8,680.5 L1227.0,692.8 L1207.5,692.8Z " fill-rule="evenodd"/><path d="M1190.5,673.4 L1241.5,673.4 L1239.8,680.5 L1189.2,680.5Z"/><path d="M1217.3,666.4 L1223.5,666.4 L1225.3,672.5 L1219.1,672.5Z"/><path d="M1212.9,681.3 L1219.1,681.3 L1220.9,691.9 L1214.7,691.9Z"/><path d="M1255.1,646.9 L1304.5,646.9 L1302.9,654.1 L1253.6,654.1Z"/><path d="M1296.6,646.9 L1304.5,646.9 L1293.5,700.7 L1285.6,700.7Z"/><path d="M1253.5,654.1 L1261.8,654.1 L1259.2,668.6 L1250.4,668.6Z"/><path d="M1249.5,668.1 L1300.1,668.1 L1298.5,675.6 L1248.2,675.6Z"/><path d="M1245.6,683.1 L1285.6,683.1 L1283.8,690.1 L1243.8,690.1Z"/><path d="M1268.9,694.1 L1293.0,694.1 L1292.2,700.7 L1268.0,700.7Z"/><path d="M1312.9,647.1 L1339.6,647.1 L1329.4,687.9 L1303.5,687.9Z M1318.0,655.8 L1320.1,655.8 L1312.3,684.8 L1310.2,684.8Z M1329.2,655.8 L1331.3,655.8 L1322.9,684.8 L1320.7,684.8Z M1318.0,655.8 L1331.3,655.8 L1330.9,657.5 L1317.6,657.5Z " fill-rule="evenodd"/><path d="M1303.5,686.4 L1313.3,686.4 L1309.0,698.9 L1300.0,698.9Z"/><path d="M1320.7,684.0 L1330.2,686.4 L1327.0,698.9 L1316.8,698.9Z"/><path d="M1340.2,647.9 L1367.2,647.9 L1365.6,660.5 L1337.4,660.5Z"/><path d="M1354.7,660.5 L1365.6,660.5 L1355.5,698.1 L1344.5,698.1Z"/><path d="M1339.8,691.8 L1355.5,691.8 L1354.7,698.1 L1338.2,698.1Z"/><path d="M1346.8,660.9 L1353.1,660.9 L1335.1,698.1 L1328.0,698.1Z"/><path d="M1398.6,647.0 L1427.1,647.0 L1423.8,654.6 L1396.9,654.6Z"/><path d="M1417.1,654.6 L1423.8,654.6 L1405.3,672.2 L1398.6,672.2Z"/><path d="M1394.4,667.2 L1402.0,663.0 L1421.3,669.7 L1419.6,673.9Z"/><path d="M1389.4,676.4 L1419.6,676.4 L1417.9,683.1 L1387.7,683.1Z"/><path d="M1398.6,683.1 L1407.0,683.1 L1404.5,692.3 L1396.1,692.3Z"/><path d="M1383.5,692.3 L1414.6,692.3 L1412.9,699.9 L1381.8,699.9Z"/><path d="M1383.5,647.1 L1392.9,647.1 L1379.6,662.4 L1370.2,662.4Z"/><path d="M1371.8,661.3 L1394.5,658.9 L1391.4,669.9 L1369.4,669.9Z"/><path d="M1385.9,663.6 L1394.5,658.9 L1384.3,678.5 L1375.7,678.5Z"/><path d="M1367.1,677.7 L1386.7,677.7 L1385.1,686.4 L1365.1,686.4Z"/><path d="M1365.5,691.1 L1383.5,691.1 L1382.4,698.9 L1363.9,698.9Z"/></g></g><g fill="#ebf0fa" opacity="0.55"><path d="M1195.3,647.0 L1204.1,647.0 L1203.7,661.5 L1194.0,661.5Z"/><path d="M1190.5,664.2 L1199.6,664.2 L1198.4,679.6 L1189.2,679.6Z"/><path d="M1188.3,681.3 L1198.4,681.3 L1189.2,699.4 L1180.8,699.4Z"/><path d="M1210.3,647.5 L1245.5,648.4 L1244.6,655.4 L1207.2,655.4Z"/><path d="M1205.5,658.9 L1243.3,658.9 L1232.7,699.8 L1196.7,699.8Z M1214.7,665.9 L1233.2,665.9 L1231.2,673.4 L1212.8,673.4Z M1210.3,680.5 L1229.8,680.5 L1227.0,692.8 L1207.5,692.8Z " fill-rule="evenodd"/><path d="M1190.5,673.4 L1241.5,673.4 L1239.8,680.5 L1189.2,680.5Z"/><path d="M1217.3,666.4 L1223.5,666.4 L1225.3,672.5 L1219.1,672.5Z"/><path d="M1212.9,681.3 L1219.1,681.3 L1220.9,691.9 L1214.7,691.9Z"/><path d="M1255.1,646.9 L1304.5,646.9 L1302.9,654.1 L1253.6,654.1Z"/><path d="M1296.6,646.9 L1304.5,646.9 L1293.5,700.7 L1285.6,700.7Z"/><path d="M1253.5,654.1 L1261.8,654.1 L1259.2,668.6 L1250.4,668.6Z"/><path d="M1249.5,668.1 L1300.1,668.1 L1298.5,675.6 L1248.2,675.6Z"/><path d="M1245.6,683.1 L1285.6,683.1 L1283.8,690.1 L1243.8,690.1Z"/><path d="M1268.9,694.1 L1293.0,694.1 L1292.2,700.7 L1268.0,700.7Z"/><path d="M1312.9,647.1 L1339.6,647.1 L1329.4,687.9 L1303.5,687.9Z M1318.0,655.8 L1320.1,655.8 L1312.3,684.8 L1310.2,684.8Z M1329.2,655.8 L1331.3,655.8 L1322.9,684.8 L1320.7,684.8Z M1318.0,655.8 L1331.3,655.8 L1330.9,657.5 L1317.6,657.5Z " fill-rule="evenodd"/><path d="M1303.5,686.4 L1313.3,686.4 L1309.0,698.9 L1300.0,698.9Z"/><path d="M1320.7,684.0 L1330.2,686.4 L1327.0,698.9 L1316.8,698.9Z"/><path d="M1340.2,647.9 L1367.2,647.9 L1365.6,660.5 L1337.4,660.5Z"/><path d="M1354.7,660.5 L1365.6,660.5 L1355.5,698.1 L1344.5,698.1Z"/><path d="M1339.8,691.8 L1355.5,691.8 L1354.7,698.1 L1338.2,698.1Z"/><path d="M1346.8,660.9 L1353.1,660.9 L1335.1,698.1 L1328.0,698.1Z"/><path d="M1398.6,647.0 L1427.1,647.0 L1423.8,654.6 L1396.9,654.6Z"/><path d="M1417.1,654.6 L1423.8,654.6 L1405.3,672.2 L1398.6,672.2Z"/><path d="M1394.4,667.2 L1402.0,663.0 L1421.3,669.7 L1419.6,673.9Z"/><path d="M1389.4,676.4 L1419.6,676.4 L1417.9,683.1 L1387.7,683.1Z"/><path d="M1398.6,683.1 L1407.0,683.1 L1404.5,692.3 L1396.1,692.3Z"/><path d="M1383.5,692.3 L1414.6,692.3 L1412.9,699.9 L1381.8,699.9Z"/><path d="M1383.5,647.1 L1392.9,647.1 L1379.6,662.4 L1370.2,662.4Z"/><path d="M1371.8,661.3 L1394.5,658.9 L1391.4,669.9 L1369.4,669.9Z"/><path d="M1385.9,663.6 L1394.5,658.9 L1384.3,678.5 L1375.7,678.5Z"/><path d="M1367.1,677.7 L1386.7,677.7 L1385.1,686.4 L1365.1,686.4Z"/><path d="M1365.5,691.1 L1383.5,691.1 L1382.4,698.9 L1363.9,698.9Z"/></g>
<text x="1194" y="733" font-family="'Liberation Sans', sans-serif" font-weight="bold" font-style="italic" font-size="32" letter-spacing="10.75" fill="#0c2a33" stroke="#0c2a33" stroke-width="1.2" transform="translate(1.2,1.2)">zzrt01.cn</text>
<text x="1194" y="733" font-family="'Liberation Sans', sans-serif" font-weight="bold" font-style="italic" font-size="32" letter-spacing="10.75" fill="#1e6a77" stroke="#1e6a77" stroke-width="1.2">zzrt01.cn</text>
</svg>
</body></html>
